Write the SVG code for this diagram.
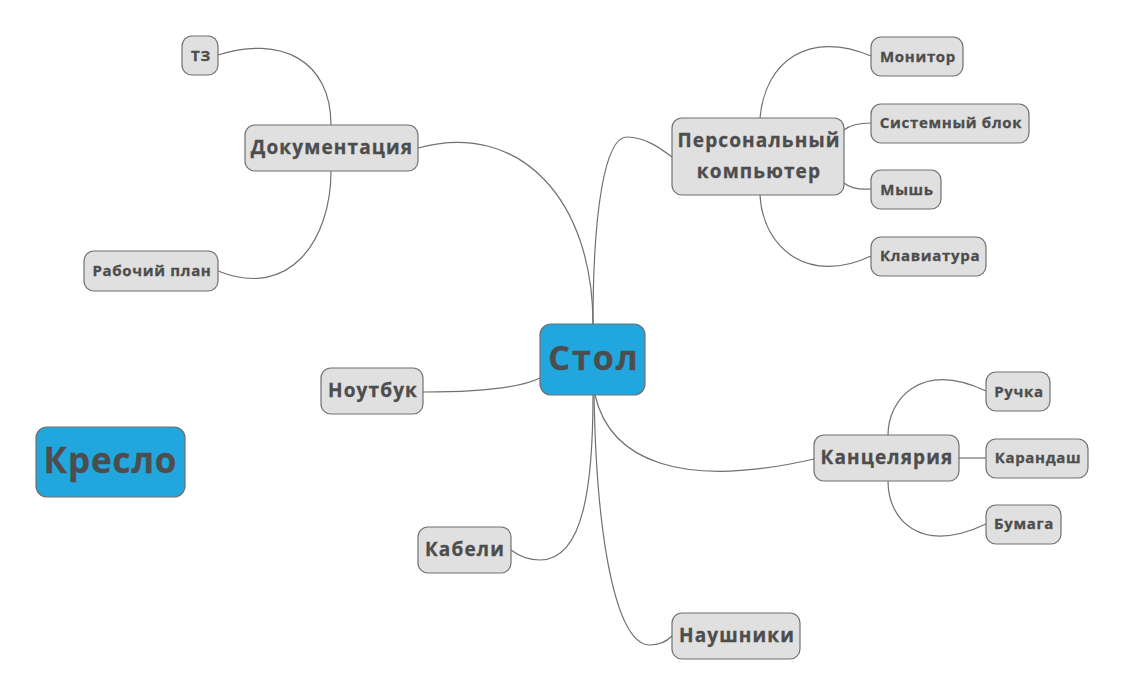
<svg xmlns="http://www.w3.org/2000/svg" width="1126" height="697" viewBox="0 0 1126 697">
<style>
.n rect{fill:#e0e0e0;stroke:#707070;stroke-width:1.2}
.r rect{fill:#21a7de;stroke:#707070;stroke-width:1.2}
text{font-family:"Open Sans","Noto Sans","DejaVu Sans",sans-serif;font-weight:bold;fill:#4d4d4d;stroke:#4d4d4d;stroke-width:0.3;letter-spacing:0.06em;text-anchor:middle;dominant-baseline:central}
.s text{font-size:15px;letter-spacing:0.045em}
.m text{font-size:19px}
#edges path{fill:none;stroke:#707070;stroke-width:1.2}
</style>
<rect width="1126" height="697" fill="#fff"/>
<g id="edges">
<path d="M418,148 C520,120 593,200 593,324"/>
<path d="M593,324 C593,210 605,137 627,137 C645,137 660,148 672,157"/>
<path d="M540,378 C520,388 480,392 423,392"/>
<path d="M593,395 C593,480 585,560 540,560 C525,560 515,553 511,550"/>
<path d="M594,395 C597,560 620,645 650,645 C660,645 668,640 672,636"/>
<path d="M595,395 C610,460 680,490 814,459"/>
<path d="M331,125 C331,60 280,35 218,55"/>
<path d="M331,171 C331,240 290,300 218,271"/>
<path d="M760,118 C765,60 810,30 871,56"/>
<path d="M844,130 C850,125 858,123 871,123"/>
<path d="M844,183 C850,188 858,190 871,189"/>
<path d="M760,195 C763,250 810,285 871,256"/>
<path d="M888,435 C888,400 920,360 986,391"/>
<path d="M959,458 L986,458"/>
<path d="M888,481 C888,520 920,555 986,524"/>
</g>
<g id="stol" class="r"><rect x="540" y="324" width="105" height="71" rx="11"/><text x="594" y="357" font-size="34">Стол</text></g>
<g id="kreslo" class="r"><rect x="36" y="427" width="149" height="70" rx="11"/><text x="110.5" y="459" font-size="35" style="letter-spacing:0.025em">Кресло</text></g>
<g id="dokumentaciya" class="n m"><rect x="245" y="125" width="173" height="46" rx="10"/><text x="332" y="147">Документация</text></g>
<g id="tz" class="n s"><rect x="182" y="36" width="36" height="39" rx="10"/><text x="201" y="55">ТЗ</text></g>
<g id="rabochiy-plan" class="n s"><rect x="84" y="251" width="134" height="40" rx="10"/><text x="152" y="270">Рабочий план</text></g>
<g id="pc" class="n m"><rect x="672" y="118" width="172" height="77" rx="10"/><text x="759" y="140">Персональный</text><text x="759" y="171">компьютер</text></g>
<g id="monitor" class="n s"><rect x="871" y="37" width="92" height="39" rx="10"/><text x="918" y="56">Монитор</text></g>
<g id="sistemnyy-blok" class="n s"><rect x="871" y="104" width="158" height="39" rx="10"/><text x="951" y="122">Системный блок</text></g>
<g id="mysh" class="n s"><rect x="871" y="170" width="70" height="39" rx="10"/><text x="907" y="189">Мышь</text></g>
<g id="klaviatura" class="n s"><rect x="871" y="237" width="115" height="39" rx="10"/><text x="930" y="255">Клавиатура</text></g>
<g id="noutbuk" class="n m"><rect x="321" y="368" width="102" height="46" rx="10"/><text x="373" y="390">Ноутбук</text></g>
<g id="kabeli" class="n m"><rect x="418" y="527" width="93" height="46" rx="10"/><text x="465" y="549">Кабели</text></g>
<g id="naushniki" class="n m"><rect x="672" y="613" width="128" height="46" rx="10"/><text x="737" y="635">Наушники</text></g>
<g id="kancelyariya" class="n m"><rect x="814" y="435" width="145" height="46" rx="10"/><text x="887" y="457">Канцелярия</text></g>
<g id="ruchka" class="n s"><rect x="986" y="372" width="64" height="39" rx="10"/><text x="1019" y="391">Ручка</text></g>
<g id="karandash" class="n s"><rect x="986" y="439" width="102" height="39" rx="10"/><text x="1038" y="457">Карандаш</text></g>
<g id="bumaga" class="n s"><rect x="986" y="505" width="75" height="39" rx="10"/><text x="1024" y="523">Бумага</text></g>
</svg>
